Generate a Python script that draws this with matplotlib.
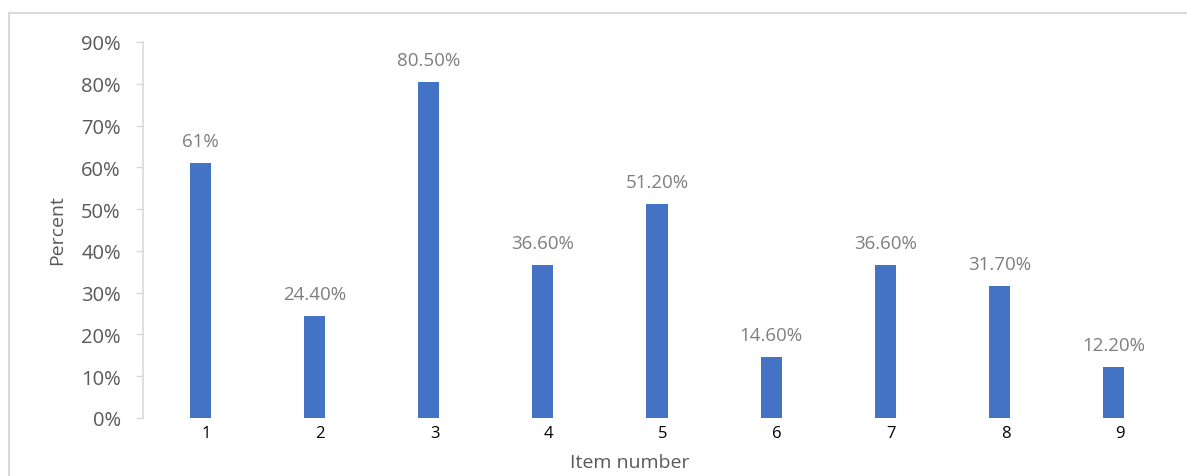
import numpy as np
import matplotlib
matplotlib.use('Agg')
import matplotlib.pyplot as plt
import matplotlib.transforms as mtransforms
from matplotlib.lines import Line2D

# Chart data
items = ['1', '2', '3', '4', '5', '6', '7', '8', '9']
percent = [61.0, 24.4, 80.5, 36.6, 51.2, 14.6, 36.6, 31.7, 12.2]
bar_labels = ['61%', '24.40%', '80.50%', '36.60%', '51.20%', '14.60%', '36.60%', '31.70%', '12.20%']
y_ticks = [0, 10, 20, 30, 40, 50, 60, 70, 80, 90]
y_tick_labels = ['0%', '10%', '20%', '30%', '40%', '50%', '60%', '70%', '80%', '90%']

plt.rcParams['font.family'] = ['Open Sans', 'DejaVu Sans']

W, H = 1187, 477
fig = plt.figure(figsize=(W / 100, H / 100), dpi=100)
ax = fig.add_axes([143 / W, 1 - 419 / H, (1171 - 143) / W, (419 - 43) / H])

x = np.arange(1, len(items) + 1)
ax.bar(x, percent, width=0.184, color='#4472C4', zorder=3)

for xi, v, lab in zip(x, percent, bar_labels):
    ax.annotate(lab, (xi, v), xytext=(0, 12), textcoords='offset points',
                ha='center', va='baseline', fontsize=13.5, color='#7F7F7F')

ax.set_xlim(0.5, 9.5)
ax.set_ylim(0, 90)
ax.set_yticks(y_ticks)
ax.set_yticklabels(y_tick_labels, fontsize=14.5, color='#595959')
ax.set_xticks(x)
ax.set_xticklabels(items, fontsize=12, color='black')

ax.tick_params(axis='y', length=5, width=1, color='#D9D9D9', pad=11)
ax.tick_params(axis='x', length=0, pad=5)
# x labels sit a little right of the bar centres in the original
offset = mtransforms.ScaledTranslation(6 / 100, 0, fig.dpi_scale_trans)
for t in ax.get_xticklabels():
    t.set_transform(t.get_transform() + offset)

for s in ['top', 'right', 'bottom']:
    ax.spines[s].set_visible(False)
ax.spines['left'].set_color('#D9D9D9')
ax.spines['left'].set_linewidth(1.2)

fig.text(57 / W, 1 - 230 / H, 'Percent', rotation=90, ha='center', va='center',
         fontsize=14, color='#595959')
fig.text(630 / W, 1 - 463 / H, 'Item number', ha='center', va='center',
         fontsize=14, color='#595959')

# chart area border (only the left and top edges are visible)
fig.add_artist(Line2D([9.5 / W, 9.5 / W, 1.0], [0.0, 1 - 13.5 / H, 1 - 13.5 / H],
                      transform=fig.transFigure, color='#D9D9D9', lw=1.5))

fig.savefig('out.png', dpi=100)
